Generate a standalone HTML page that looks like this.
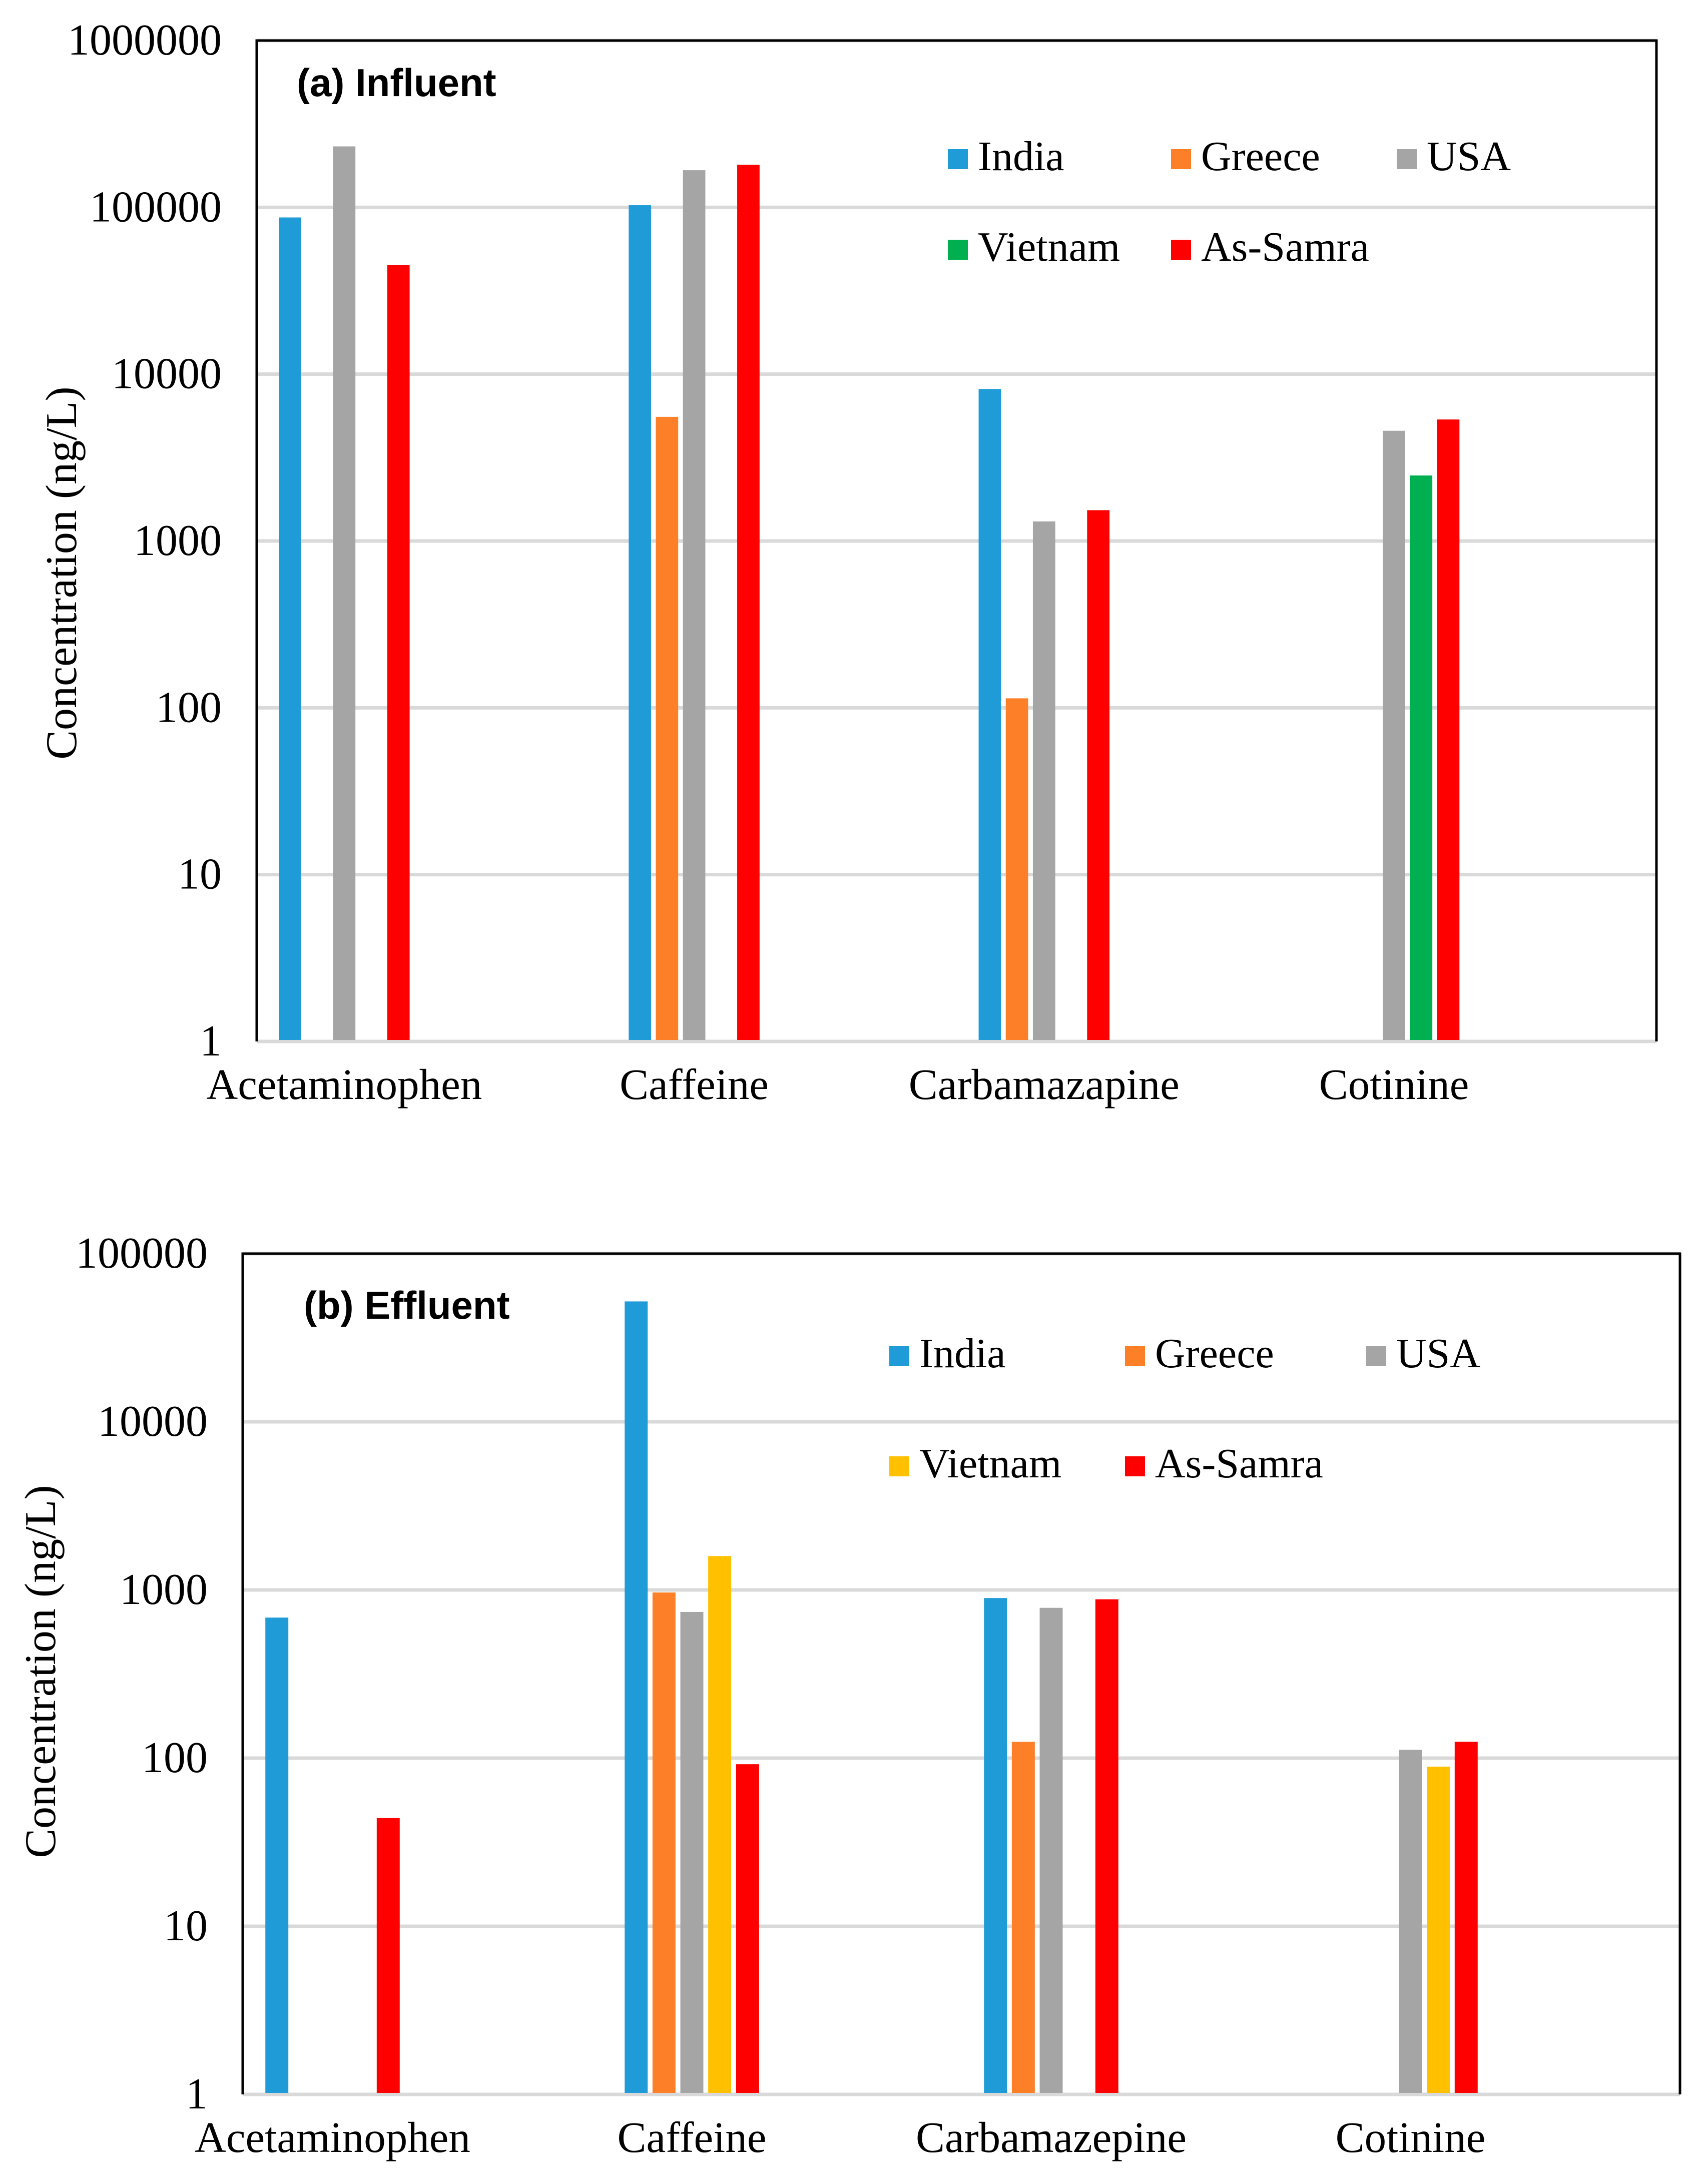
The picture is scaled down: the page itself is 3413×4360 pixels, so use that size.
<!DOCTYPE html>
<html><head><meta charset="utf-8"><style>html,body{margin:0;padding:0;background:#fff}svg{display:block}</style></head>
<body>
<svg id="fig" width="3413" height="4360" viewBox="0 0 3413 4360" xmlns="http://www.w3.org/2000/svg"></svg>
<script>
const categoriesA = ["Acetaminophen","Caffeine","Carbamazapine","Cotinine"];
const categoriesB = ["Acetaminophen","Caffeine","Carbamazepine","Cotinine"];
const seriesNames = ["India","Greece","USA","Vietnam","As-Samra"];
const colorsA = ["#1f9bd7","#fd7f27","#a5a5a5","#00b050","#ff0000"];
const colorsB = ["#1f9bd7","#fd7f27","#a5a5a5","#ffc000","#ff0000"];
// influent values (null = no bar)
const indiaA   = [87000, 103000, 8150, null];
const greeceA  = [null, 5550, 114, null];
const usaA     = [232000, 167000, 1310, 4580];
const vietnamA = [null, null, null, 2470];
const samraA   = [45000, 180000, 1530, 5350];
const ticksA = ["1","10","100","1000","10000","100000","1000000"];
// effluent values
const indiaB   = [685, 52000, 895, null];
const greeceB  = [null, 966, 125, null];
const usaB     = [null, 740, 783, 112];
const vietnamB = [null, 1590, null, 89];
const samraB   = [44, 92, 880, 125];
const ticksB = ["1","10","100","1000","10000","100000"];

const NS="http://www.w3.org/2000/svg";
const svg=document.getElementById('fig');
function mk(tag,attrs,parent){const e=document.createElementNS(NS,tag);for(const k in attrs)e.setAttribute(k,attrs[k]);(parent||svg).appendChild(e);return e;}

function chart(p){
  const g=mk('g',{});
  
  
  const decades=p.ticks.length-1;
  const y=v=>p.bottom-(Math.log10(v))*(p.bottom-p.top)/decades;
  const catW=(p.right-p.left)/p.cats.length;
  const x=i=>p.left+(0.25+i)*catW;
  p.ticks.forEach((t,i)=>{
    const yy=y(Math.pow(10,i));
    const gl=mk('line',{x1:p.left,x2:p.right,y1:yy,y2:yy,stroke:'#d9d9d9','stroke-width':7},g);
    
    
    const tl=mk('text',{x:p.left-70,y:yy+28,'text-anchor':'end','font-family':'Liberation Serif, serif','font-size':88,fill:'#000'},g);
    tl.textContent=t;
    
    
  });
  const fr=mk('path',{d:`M${p.left},${p.bottom} V${p.top} H${p.right} V${p.bottom}`,fill:'none',stroke:'#000','stroke-width':5},g);
  
  
  const bw=0.064*catW, off=0.0775*catW;
  p.series.forEach((s,si)=>{
    s.forEach((v,ci)=>{
      if(v==null)return;
      const cx=x(ci)+(si-2)*off;
      const r=mk('rect',{x:cx-bw/2,y:y(v),width:bw,height:p.bottom-y(v)-3,fill:p.colors[si]},g);
      
      
    });
  });
  p.cats.forEach((c,ci)=>{
    const t=mk('text',{x:x(ci),y:p.bottom+p.catDy,'text-anchor':'middle','font-family':'Liberation Serif, serif','font-size':87},g);
    t.textContent=c;
    
    
  });
  const yt=mk('text',{x:0,y:0,transform:`translate(${p.ytx},${p.ytc}) rotate(-90)`,'text-anchor':'middle','font-family':'Liberation Serif, serif','font-size':88},g);
  yt.textContent='Concentration (ng/L)';
  
  
  const pt=mk('text',{x:p.titleX,y:p.titleY,'font-family':'Liberation Sans, sans-serif','font-weight':'bold','font-size':78},g);
  pt.textContent=p.title;
  
  
  const lx=[p.legX,p.legX+p.legStep[0],p.legX+p.legStep[1]];
  seriesNames.forEach((n,i)=>{
    const row=i<3?0:1, col=i<3?i:i-3;
    const lg=mk('g',{},g);
    
    
    const yy=p.legY+row*p.legRow;
    mk('rect',{x:lx[col],y:yy-40,width:40,height:40,fill:p.colors[i]},lg);
    const t=mk('text',{x:lx[col]+60,y:yy+2,'font-family':'Liberation Serif, serif','font-size':84},lg);
    t.textContent=n;
  });
}
chart({id:'influent',left:513,right:3310,top:81,bottom:2081,ticks:ticksA,cats:categoriesA,
  series:[indiaA,greeceA,usaA,vietnamA,samraA],colors:colorsA,catDy:115,ytx:152,ytc:1145,
  title:'(a) Influent',titleX:593,titleY:192,legX:1894,legY:338,legRow:181,legStep:[446,897]});
chart({id:'effluent',left:485,right:3357,top:2505,bottom:4185,ticks:ticksB,cats:categoriesB,
  series:[indiaB,greeceB,usaB,vietnamB,samraB],colors:colorsB,catDy:115,ytx:110,ytc:3340,
  title:'(b) Effluent',titleX:607,titleY:2635,legX:1777,legY:2730,legRow:220,legStep:[471,953]});
</script>
</body></html>
